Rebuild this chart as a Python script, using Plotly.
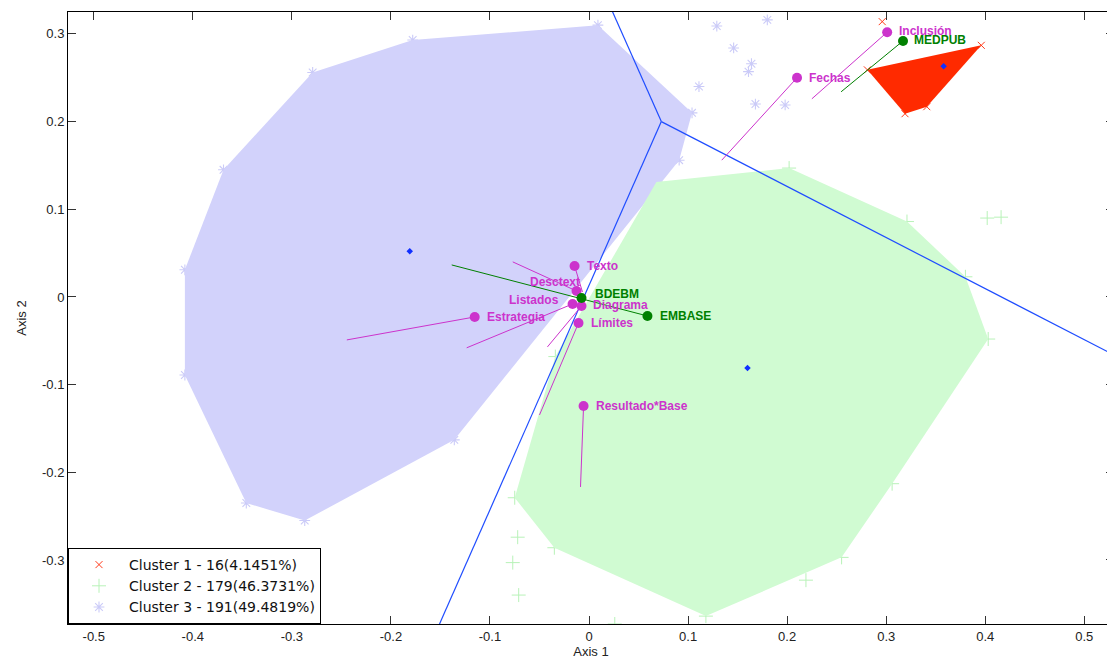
import plotly.graph_objects as go

# ---------------- data ----------------
# Cluster 1 (red x)
c1_x = [0.296, 0.281, 0.396, 0.341, 0.319, 0.362]
c1_y = [0.314, 0.259, 0.287, 0.217, 0.209, 0.259]
hull1_x = [0.281, 0.396, 0.341, 0.319]
hull1_y = [0.259, 0.287, 0.217, 0.209]

# Cluster 2 (green +)
c2_x = [0.068, 0.202, 0.321, 0.380, 0.403, 0.306, 0.255, 0.219, 0.118, -0.035, -0.075, -0.034,
        0.402, 0.416, -0.072, -0.077, -0.071, 0.026]
c2_y = [0.131, 0.147, 0.086, 0.023, -0.048, -0.213, -0.297, -0.323, -0.364, -0.286, -0.229, -0.068,
        0.090, 0.091, -0.274, -0.303, -0.340, -0.373]
hull2_x = [0.068, 0.202, 0.321, 0.380, 0.403, 0.306, 0.255, 0.118, -0.035, -0.075, -0.034]
hull2_y = [0.131, 0.147, 0.086, 0.023, -0.048, -0.213, -0.297, -0.364, -0.286, -0.229, -0.068]

# Cluster 3 (lavender *)
c3_x = [0.009, 0.104, 0.091, -0.136, -0.287, -0.346, -0.408, -0.408, -0.369, -0.279, -0.178,
        0.129, 0.180, 0.146, 0.164, 0.161, 0.111, 0.168, 0.198]
c3_y = [0.310, 0.210, 0.156, -0.163, -0.255, -0.235, -0.089, 0.031, 0.145, 0.256, 0.293,
        0.309, 0.316, 0.284, 0.266, 0.257, 0.240, 0.220, 0.219]
hull3_x = [0.009, 0.104, 0.091, -0.136, -0.287, -0.346, -0.408, -0.408, -0.369, -0.279, -0.178]
hull3_y = [0.310, 0.210, 0.156, -0.163, -0.255, -0.235, -0.089, 0.031, 0.145, 0.256, 0.293]

legend_names = ["Cluster 1 - 16(4.1451%)", "Cluster 2 - 179(46.3731%)", "Cluster 3 - 191(49.4819%)"]

# Cluster centroids
cent_x = [0.358, 0.160, -0.181]
cent_y = [0.263, -0.081, 0.052]

# Separating boundaries (junction and outer ends)
sep_junction = (0.073, 0.200)
sep_ends_x = [0.014, 0.600, -0.1615]
sep_ends_y = [0.350, -0.107, -0.400]

# Variables (magenta) : point and other end of its segment
mag_names = ["Inclusión", "Fechas", "Texto", "Desctext", "Listados", "Diagrama",
             "Estrategia", "Límites", "Resultado*Base"]
mag_x = [0.301, 0.210, -0.0146, -0.0126, -0.0166, -0.0076, -0.1154, -0.0106, -0.0055]
mag_y = [0.302, 0.250, 0.0354, 0.0068, -0.008, -0.0103, -0.0228, -0.0297, -0.1243]
mag_end_x = [0.225, 0.134, -0.0066, -0.077, -0.1235, -0.042, -0.2445, -0.050, -0.0086]
mag_end_y = [0.226, 0.156, 0.0057, 0.040, -0.058, -0.057, -0.049, -0.1346, -0.2167]

# Variables (green)
grn_names = ["MEDPUB", "BDEBM", "EMBASE"]
grn_x = [0.317, -0.0076, 0.059]
grn_y = [0.292, -0.0011, -0.0217]
grn_end_x = [0.2545, None, -0.1386]
grn_end_y = [0.234, None, 0.0365]

x_ticks = [-0.5, -0.4, -0.3, -0.2, -0.1, 0, 0.1, 0.2, 0.3, 0.4, 0.5]
x_tick_labels = ["-0.5", "-0.4", "-0.3", "-0.2", "-0.1", "0", "0.1", "0.2", "0.3", "0.4", "0.5"]
y_ticks = [-0.3, -0.2, -0.1, 0, 0.1, 0.2, 0.3]
y_tick_labels = ["-0.3", "-0.2", "-0.1", "0", "0.1", "0.2", "0.3"]

# ---------------- styles ----------------
FONT = "Liberation Sans, Arial, sans-serif"
MAG = "#cc33cc"
GRN = "#008000"
BLUE = "#1f4dff"
label_offsets = {  # pixel offsets of labels relative to their point
    "Inclusión": (10, 1, "left"), "Fechas": (10, 0, "left"), "Texto": (10, 0, "left"),
    "Desctext": (5, 9, "right"), "Listados": (-12, 4, "right"), "Diagrama": (10, 1, "left"),
    "Estrategia": (10, 0, "left"), "Límites": (10, 0, "left"), "Resultado*Base": (10, 0, "left"),
    "MEDPUB": (9, 1, "left"), "BDEBM": (12, 4, "left"), "EMBASE": (11, 0, "left"),
}

fig = go.Figure()

# cluster points (below fills)
fig.add_trace(go.Scatter(x=c1_x, y=c1_y, mode="markers", name=legend_names[0],
                         marker=dict(symbol="x-thin-open", size=7, color="#ff3a1a",
                                     line=dict(width=1, color="#ff3a1a"))))
fig.add_trace(go.Scatter(x=c2_x, y=c2_y, mode="markers", name=legend_names[1],
                         marker=dict(symbol="cross-thin-open", size=10, color="#b8f2b8",
                                     line=dict(width=1, color="#b8f2b8"))))
fig.add_trace(go.Scatter(x=c3_x, y=c3_y, mode="markers", name=legend_names[2],
                         marker=dict(symbol="asterisk-open", size=9, color="#cbcbf8",
                                     line=dict(width=1.1, color="#cbcbf8"))))

# hull fills
for hx, hy, col in [(hull3_x, hull3_y, "#d2d2fb"), (hull2_x, hull2_y, "#d0fbd2"),
                    (hull1_x, hull1_y, "#ff2a00")]:
    fig.add_trace(go.Scatter(x=hx + hx[:1], y=hy + hy[:1], mode="lines", fill="toself",
                             fillcolor=col, line=dict(width=0, color=col),
                             showlegend=False, hoverinfo="skip"))

# separating lines
for ex, ey in zip(sep_ends_x, sep_ends_y):
    fig.add_trace(go.Scatter(x=[sep_junction[0], ex], y=[sep_junction[1], ey], mode="lines",
                             line=dict(color=BLUE, width=1.2), showlegend=False, hoverinfo="skip"))

# centroids
fig.add_trace(go.Scatter(x=cent_x, y=cent_y, mode="markers",
                         marker=dict(symbol="diamond", size=5, color="#1030ff"),
                         showlegend=False))

# variable segments
for px, py, ex, ey in zip(mag_x, mag_y, mag_end_x, mag_end_y):
    fig.add_trace(go.Scatter(x=[ex, px], y=[ey, py], mode="lines",
                             line=dict(color=MAG, width=1), showlegend=False, hoverinfo="skip"))
for px, py, ex, ey in zip(grn_x, grn_y, grn_end_x, grn_end_y):
    if ex is None:
        continue
    fig.add_trace(go.Scatter(x=[ex, px], y=[ey, py], mode="lines",
                             line=dict(color=GRN, width=1), showlegend=False, hoverinfo="skip"))

# variable points
fig.add_trace(go.Scatter(x=mag_x, y=mag_y, mode="markers",
                         marker=dict(symbol="circle", size=10, color=MAG), showlegend=False))
fig.add_trace(go.Scatter(x=grn_x, y=grn_y, mode="markers",
                         marker=dict(symbol="circle", size=10, color=GRN), showlegend=False))

# labels
for names, xs, ys, col in [(mag_names, mag_x, mag_y, MAG), (grn_names, grn_x, grn_y, GRN)]:
    for n, x, y in zip(names, xs, ys):
        dx, dy, anc = label_offsets[n]
        fig.add_annotation(x=x, y=y, text="<b>%s</b>" % n, showarrow=False,
                           xanchor=anc, yanchor="middle", xshift=dx, yshift=dy,
                           font=dict(family=FONT, size=12, color=col))

axis_common = dict(showline=True, linecolor="black", linewidth=1, mirror="ticks",
                   ticks="inside", ticklen=8, tickcolor="#333333", showgrid=False,
                   zeroline=False, tickfont=dict(family=FONT, size=13, color="#222222"))

fig.update_xaxes(range=[-0.526, 0.530], tickvals=x_ticks, ticktext=x_tick_labels,
                 title=dict(text="Axis 1", font=dict(family=FONT, size=13, color="#222222"), standoff=4),
                 **axis_common)
fig.update_yaxes(range=[-0.373, 0.325], tickvals=y_ticks, ticktext=y_tick_labels,
                 title=dict(text="Axis 2", font=dict(family=FONT, size=13, color="#222222"), standoff=12),
                 **axis_common)

# page body has an 8px margin, so margins are reduced on the left/top accordingly
fig.update_layout(
    width=1115, height=662,
    margin=dict(l=60, r=9, t=4, b=46, autoexpand=False),
    plot_bgcolor="white", paper_bgcolor="white",
    showlegend=True,
    legend=dict(x=0, y=0, xanchor="left", yanchor="bottom", bgcolor="white",
                bordercolor="black", borderwidth=1, itemwidth=50,
                font=dict(family="DejaVu Sans, sans-serif", size=14, color="#111111"),
                tracegroupgap=0),
)

fig.write_html("out.html")
